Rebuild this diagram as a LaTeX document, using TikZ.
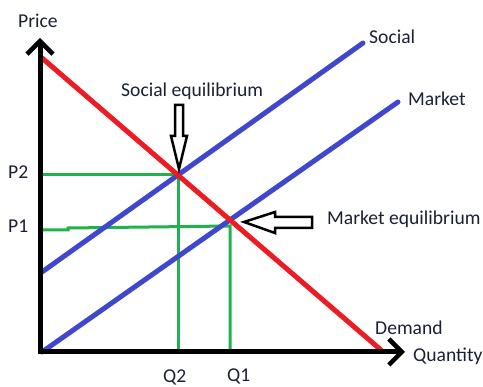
\documentclass[tikz,border=0pt]{standalone}
\usepackage{fontspec}
\setmainfont{Carlito}
\usetikzlibrary{arrows.meta,calc}
\definecolor{dred}{RGB}{237,28,36}
\definecolor{dblue}{RGB}{63,72,204}
\definecolor{dgreen}{RGB}{34,177,76}
\definecolor{txt}{RGB}{28,32,52}
\begin{document}
\begin{tikzpicture}[x=1pt,y=-1pt,
  lbl/.style={font=\fontsize{19.6}{22}\selectfont, text=txt, inner sep=0pt, anchor=base west},
  axisline/.style={line width=5pt, -{Straight Barb[length=13pt,width=26pt,line width=4.5pt]}},
  curve/.style={line width=5pt, line cap=round},
  guide/.style={line width=3pt, dgreen},
  blockarrow/.style={draw=black, line width=2.5pt, fill=white, line join=miter}]
\useasboundingbox (0,0) rectangle (483,387);
\fill[white] (0,0) rectangle (483,387);
% coordinates
\coordinate (O) at (40,354);
\coordinate (Ytip) at (40,38);
\coordinate (Xo) at (38,352);
\coordinate (Xtip) at (405,352);
\coordinate (Dstart) at (42,58);
\coordinate (Dend) at (381,350);
\coordinate (Sstart) at (42,272);
\coordinate (Send) at (363,43);
\coordinate (Mstart) at (42,352);
\coordinate (Mend) at (398,102);
\coordinate (SE) at (178,175);
\coordinate (ME) at (231,222);
\coordinate (P2a) at (42,175);
\coordinate (Q2a) at (178,352);
\coordinate (P1a) at (42,230);
\coordinate (P1b) at (68,230);
\coordinate (P1c) at (68,228);
\coordinate (P1d) at (230,226);
\coordinate (Q1a) at (230,352);
% labels
\node[lbl] (price) at (18,28) {Price};
\node[lbl] (p2) at (8,179) {P2};
\node[lbl] (p1) at (8,233) {P1};
\node[lbl] (q2) at (163,383) {Q2};
\node[lbl] (q1) at (227,382) {Q1};
\node[lbl] (qty) at (413,362) {Quantity};
\node[lbl] (dem) at (375,335) {Demand};
\node[lbl] (soc) at (369,44) {Social};
\node[lbl] (mkt) at (408,106) {Market};
\node[lbl] (seq) at (121,97) {Social equilibrium};
\node[lbl] (meq) at (327,225) {Market equilibrium};
% guides
\draw[guide] (P2a) -- (SE) -- (Q2a);
\draw[guide] (P1a) -- (P1b) -- (P1c) -- (P1d) -- (Q1a);
% curves
\draw[curve, dblue] (Sstart) -- (Send);
\draw[curve, dblue] (Mstart) -- (Mend);
\draw[curve, dred] (Dstart) -- (Dend);
% axes
\draw[axisline] (O) -- (Ytip);
\draw[axisline] (Xo) -- (Xtip);
% block arrows
\draw[blockarrow] ($(SE)+(-3,-70)$) -- ($(SE)+(5,-70)$) -- ($(SE)+(5,-39)$) -- ($(SE)+(9,-39)$)
  -- ($(SE)+(1,-6)$) -- ($(SE)+(-7,-39)$) -- ($(SE)+(-3,-39)$) -- cycle;
\draw[blockarrow] ($(ME)+(13,0)$) -- ($(ME)+(44,-10)$) -- ($(ME)+(44,-5)$) -- ($(ME)+(81,-5)$)
  -- ($(ME)+(81,6)$) -- ($(ME)+(44,6)$) -- ($(ME)+(44,11)$) -- cycle;
\end{tikzpicture}
\end{document}
